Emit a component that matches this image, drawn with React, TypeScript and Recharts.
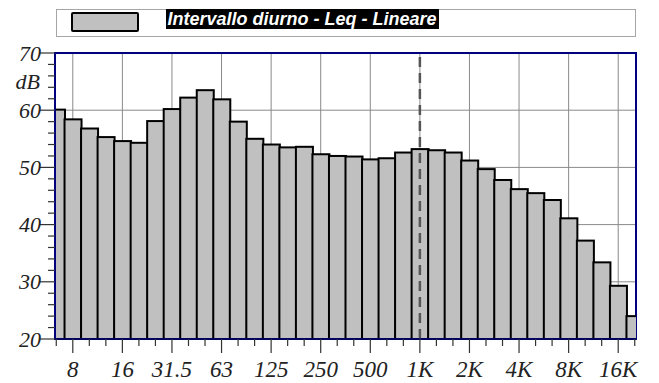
import { Bar, BarChart, CartesianGrid, Legend, ReferenceLine, XAxis, YAxis, usePlotArea } from "recharts";

// 1/3 octave bands, 6.3 Hz - 20 kHz
const bands = [
  "6.3", "8", "10", "12.5", "16", "20", "25", "31.5", "40", "50", "63", "80",
  "100", "125", "160", "200", "250", "315", "400", "500", "630", "800", "1K", "1.25K",
  "1.6K", "2K", "2.5K", "3.15K", "4K", "5K", "6.3K", "8K", "10K", "12.5K", "16K", "20K",
];
const leqDay = [
  60.1, 58.4, 56.8, 55.3, 54.6, 54.3, 58.1, 60.2, 62.2, 63.5, 61.9, 58.0,
  55.0, 54.0, 53.5, 53.6, 52.3, 52.0, 51.9, 51.4, 51.6, 52.6, 53.2, 53.0,
  52.6, 51.2, 49.7, 47.8, 46.2, 45.5, 44.3, 41.1, 37.2, 33.4, 29.3, 24.0,
];
const octaveLabels = ["8", "16", "31.5", "63", "125", "250", "500", "1K", "2K", "4K", "8K", "16K"];
const yTicks = [20, 22, 24, 26, 28, 30, 32, 34, 36, 38, 40, 42, 44, 46, 48, 50, 52, 54, 56, 58, 60, 62, 64, 66, 68, 70];
const gridLevels = [30, 40, 50, 60];
const seriesName = "Intervallo diurno - Leq - Lineare";

const data = bands.map((f, i) => ({ f, leq: leqDay[i] }));

const serif = '"Liberation Serif", "Times New Roman", serif';
const navy = "#00007f";

function XTick(props: any) {
  const { x, y, payload } = props;
  const major = octaveLabels.includes(payload.value);
  return (
    <g>
      <line x1={x} y1={y} x2={x} y2={y + (major ? 14 : 7)} stroke="#333" strokeWidth={1.2} />
      {major && (
        <text x={x} y={y + 38} textAnchor="middle" fontFamily={serif} fontStyle="italic" fontSize={23} fill="#222">
          {payload.value}
        </text>
      )}
    </g>
  );
}

function YTick(props: any) {
  const { x, y, payload } = props;
  const major = payload.value % 10 === 0;
  return (
    <g>
      <line x1={x - (major ? 15 : 7)} y1={y} x2={x} y2={y} stroke="#333" strokeWidth={1.2} />
      {major && (
        <text x={x - 14} y={y + 7.5} textAnchor="end" fontFamily={serif} fontStyle="italic" fontSize={22} fill="#222">
          {payload.value}
        </text>
      )}
    </g>
  );
}

function DbLabel(props: any) {
  const vb = props.viewBox;
  return (
    <text x={vb.x + vb.width - 15} y={vb.y + 36} textAnchor="end" fontFamily={serif} fontStyle="italic" fontSize={22} fill="#222">
      dB
    </text>
  );
}

// bars are clipped to the plot area (first and last band are cut in half)
function ClippedBar(props: any) {
  const plot = usePlotArea();
  const { x, y, width, height, fill, stroke, strokeWidth, index } = props;
  const id = `band-clip-${index}`;
  return (
    <g>
      {plot && (
        <defs>
          <clipPath id={id}>
            <rect x={plot.x} y={plot.y - 4} width={plot.width} height={plot.height + 8} />
          </clipPath>
        </defs>
      )}
      <rect
        x={x}
        y={y}
        width={width}
        height={height}
        fill={fill}
        stroke={stroke}
        strokeWidth={strokeWidth}
        clipPath={plot ? `url(#${id})` : undefined}
      />
    </g>
  );
}

function PlotFrame() {
  const plot = usePlotArea();
  if (!plot) return null;
  return <rect x={plot.x} y={plot.y} width={plot.width} height={plot.height} fill="none" stroke={navy} strokeWidth={2} />;
}

function LegendBox() {
  return (
    <div style={{ position: "relative", width: 580, height: 28, border: "1.5px solid #a6a6a6", boxSizing: "border-box", background: "#fff" }}>
      <div
        style={{
          position: "absolute", left: 13.5, top: 2, width: 68, height: 20,
          background: "#c0c0c0", border: "2px solid #000", borderRadius: 2, boxSizing: "border-box",
        }}
      />
      <span
        style={{
          position: "absolute", left: 108.5, top: -1.5, height: 20, lineHeight: "20px", padding: "0 2px",
          background: "#000", color: "#fff", font: 'italic bold 18px "Liberation Sans", Arial, sans-serif', whiteSpace: "nowrap",
        }}
      >
        {seriesName}
      </span>
    </div>
  );
}

export default function App() {
  return (
    <div style={{ position: "absolute", left: 0, top: 0, background: "#fff" }}>
      <BarChart width={659} height={383} data={data} barCategoryGap={0} margin={{ top: 53, right: 23, bottom: 0, left: 10 }}>
        <CartesianGrid stroke="#8a8a8a" strokeWidth={1} horizontalValues={gridLevels} verticalValues={octaveLabels} />
        <XAxis
          dataKey="f"
          height={44}
          interval={0}
          padding={{ left: -7, right: -7 }}
          tickSize={0}
          tickMargin={0}
          tickLine={false}
          tick={<XTick />}
          axisLine={{ stroke: navy, strokeWidth: 1.5 }}
        />
        <YAxis
          type="number"
          domain={[20, 70]}
          ticks={yTicks}
          interval={0}
          width={45}
          tickSize={0}
          tickMargin={0}
          tickLine={false}
          tick={<YTick />}
          axisLine={{ stroke: navy, strokeWidth: 2 }}
          label={DbLabel}
        />
        <Legend
          layout="vertical"
          align="center"
          verticalAlign="middle"
          wrapperStyle={{ top: 9, left: 56, width: 580 }}
          content={() => <LegendBox />}
        />
        <Bar dataKey="leq" name={seriesName} fill="#c0c0c0" stroke="#000" strokeWidth={2} shape={<ClippedBar />} isAnimationActive={false} />
        <ReferenceLine x="1K" stroke="#555" strokeWidth={2.5} strokeDasharray="10 6" />
        <PlotFrame />
      </BarChart>
    </div>
  );
}
